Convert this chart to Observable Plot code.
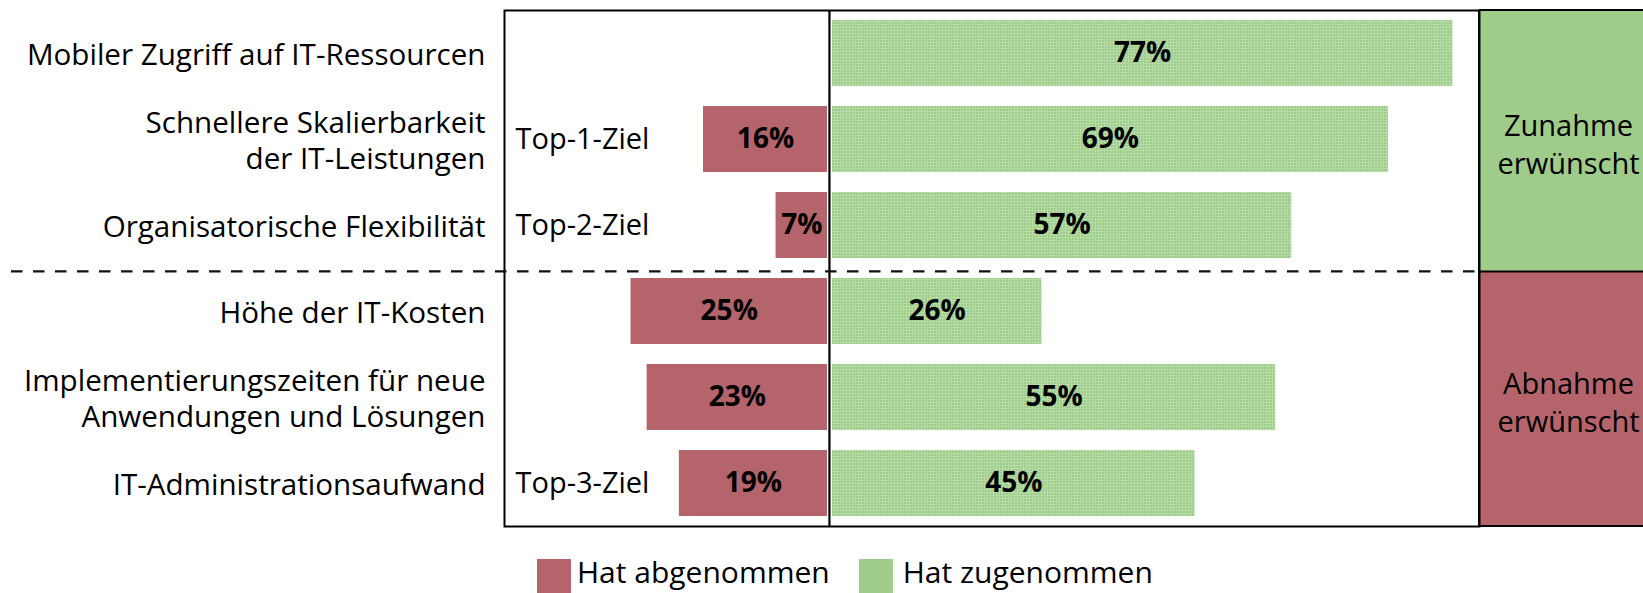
<!DOCTYPE html>
<html><head><meta charset="utf-8">
<script src="https://cdn.jsdelivr.net/npm/d3@7"></script>
<script src="https://cdn.jsdelivr.net/npm/@observablehq/plot@0.6"></script>
<style>
body{margin:0;background:#fff;font-family:"Open Sans",sans-serif;}
#wrap{position:relative;width:1643px;height:593px;overflow:hidden;}
#legend{position:absolute;left:537px;top:556px;display:flex;align-items:flex-start;font-size:30px;color:#000;white-space:nowrap;}
#legend span{line-height:30px;margin-top:1px;}
.sw{width:34px;height:37px;flex:none;margin-top:3px;}
</style></head><body><div id="wrap"><div id="chart"></div><div id="legend"></div></div>
<script>
const categories = [
  "Mobiler Zugriff auf IT-Ressourcen",
  "Schnellere Skalierbarkeit\nder IT-Leistungen",
  "Organisatorische Flexibilität",
  "Höhe der IT-Kosten",
  "Implementierungszeiten für neue\nAnwendungen und Lösungen",
  "IT-Administrationsaufwand"
];
const decreased = [null, 16, 7, 25, 23, 19];
const increased = [77, 69, 57, 26, 55, 45];
const goalLabels = ["", "Top-1-Ziel", "Top-2-Ziel", "", "", "Top-3-Ziel"];
const groupLabels = ["Zunahme\nerwünscht", "Abnahme\nerwünscht"];
const groupRows = [1, 4];
const seriesNames = ["Hat abgenommen", "Hat zugenommen"];

const RED = "#b5646b", GREEN = "#9fcb8b";
const xMin = -40.7, xMax = 80.3, panelEnd = 102.4;

const rows = categories.map((c, i) => ({cat: c, dec: decreased[i], inc: increased[i], goal: goalLabels[i]}));
const groups = groupLabels.map((g, i) => ({label: g, cat: categories[groupRows[i]]}));

const plot = Plot.plot({
  width: 1643, height: 540,
  marginLeft: 504, marginRight: 164, marginTop: 10, marginBottom: 14,
  style: {fontFamily: "'Open Sans', sans-serif", fontSize: "29px", color: "#000", background: "transparent"},
  x: {domain: [xMin, xMax], axis: null},
  y: {domain: categories, paddingInner: 0.233, paddingOuter: 0.116, label: null},
  marks: [
    Plot.barX(rows.filter(d => d.dec != null), {y: "cat", x1: 0, x2: d => -d.dec, fill: RED, insetRight: 5}),
    Plot.barX(rows, {y: "cat", x1: 0, x2: "inc", fill: "url(#greenTex)"}),
    Plot.ruleX([0], {dx: -3, stroke: "#000", strokeWidth: 2.2}),
    Plot.frame({stroke: "#000", strokeWidth: 2}),
    Plot.axisY({tickSize: 0, tickPadding: 19, fontSize: 29.6, lineHeight: 1.22, label: null}),
    Plot.text(rows.filter(d => d.goal), {y: "cat", x: xMin, dx: 11, text: "goal", textAnchor: "start", fontSize: 29}),
    Plot.text(rows.filter(d => d.dec != null), {y: "cat", x: d => -d.dec / 2, dx: -2.5, text: d => d.dec + "%", fontWeight: "bold", fontSize: 28}),
    Plot.text(rows, {y: "cat", x: d => d.inc / 2, text: d => d.inc + "%", fontWeight: "bold", fontSize: 28}),
    Plot.text(groups, {y: "cat", x: (xMax + panelEnd) / 2, dy: 3, text: "label", fontSize: 29, lineHeight: 1.32})
  ]
});

const svg = d3.select(plot);
// texture for the "increased" bars
const pat = svg.insert("defs", ":first-child").append("pattern")
  .attr("id", "greenTex").attr("patternUnits", "userSpaceOnUse").attr("width", 3).attr("height", 3);
pat.append("rect").attr("width", 3).attr("height", 3).attr("fill", "#9ecc89");
pat.append("rect").attr("width", 3).attr("height", 1).attr("fill", "#b6dba6");
pat.append("rect").attr("width", 1).attr("height", 3).attr("fill", "#b6dba6");

const X = plot.scale("x"), Y = plot.scale("y");
const x0 = X.apply(xMax);
const yTop = Y.range[0], yBot = Y.range[1];
const yDiv = Y.apply(categories[3]) - 6.6;
const W = 1643;
const under = svg.insert("g", "g");
under.append("rect").attr("x", x0).attr("y", yTop).attr("width", W - x0 + 10).attr("height", yDiv - yTop).attr("fill", GREEN);
under.append("rect").attr("x", x0).attr("y", yDiv).attr("width", W - x0 + 10).attr("height", yBot - yDiv).attr("fill", RED);
const over = svg.append("g").attr("stroke", "#000").attr("fill", "none");
over.append("line").attr("x1", x0).attr("x2", W + 5).attr("y1", yTop).attr("y2", yTop).attr("stroke-width", 2);
over.append("line").attr("x1", x0).attr("x2", W + 5).attr("y1", yBot).attr("y2", yBot).attr("stroke-width", 2);
over.append("line").attr("x1", x0).attr("x2", W + 5).attr("y1", yDiv).attr("y2", yDiv).attr("stroke-width", 2);
over.append("line").attr("x1", x0).attr("x2", x0).attr("y1", yTop).attr("y2", yBot).attr("stroke-width", 2);
over.append("line").attr("x1", 11).attr("x2", x0).attr("y1", yDiv).attr("y2", yDiv)
  .attr("stroke-width", 2.2).attr("stroke-dasharray", "11.5,10.5").attr("stroke", "#111");

document.getElementById("chart").appendChild(plot);

const legend = d3.select("#legend");
[[seriesNames[0], RED], [seriesNames[1], GREEN]].forEach(([name, col], i) => {
  legend.append("div").attr("class", "sw").style("background", col).style("margin-left", i ? "29px" : "0");
  legend.append("span").style("margin-left", i ? "10px" : "6px").text(name);
});
</script></body></html>
